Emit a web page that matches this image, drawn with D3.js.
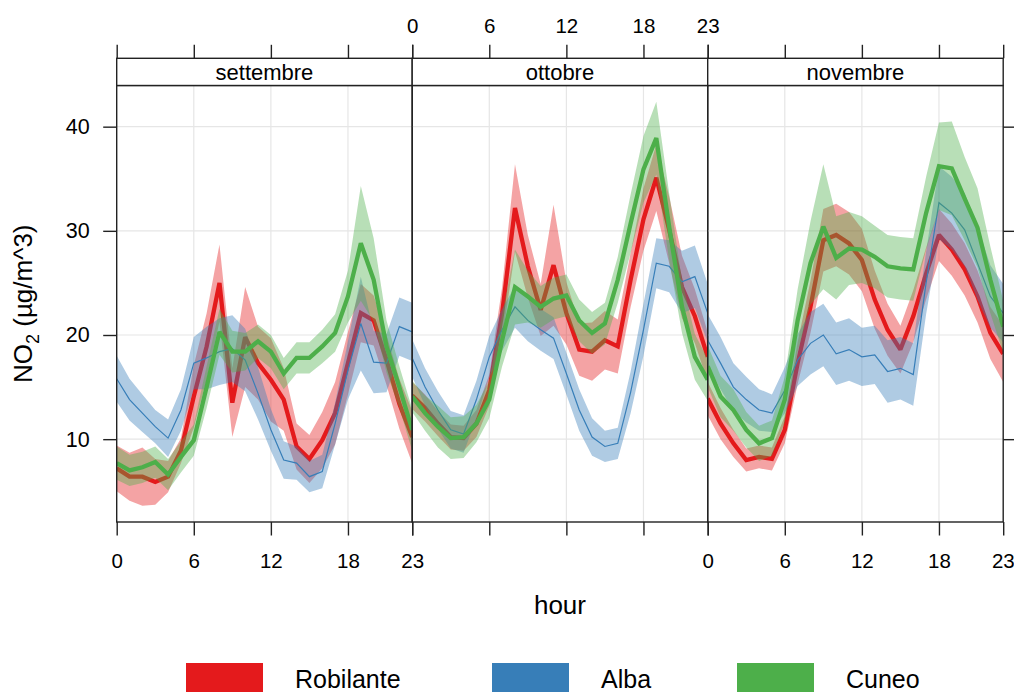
<!DOCTYPE html>
<html>
<head>
<meta charset="utf-8">
<script src="https://cdn.jsdelivr.net/npm/d3@7"></script>
<style>
  html, body { margin: 0; padding: 0; background: #fff; }
  svg { display: block; font-family: "Liberation Sans", Arial, sans-serif; }
</style>
</head>
<body>
<svg id="chart" width="1014" height="693"></svg>
<script>
// Hourly NO2 profiles by month, three monitoring sites, with confidence bands.
const months = ["settembre", "ottobre", "novembre"];
const hours = [0, 1, 2, 3, 4, 5, 6, 7, 8, 9, 10, 11, 12, 13, 14, 15, 16, 17, 18, 19, 20, 21, 22, 23];
const hourTicks = [0, 6, 12, 18, 23];
const yTicks = [10, 20, 30, 40];
const siteNames = ["Robilante", "Alba", "Cuneo"];
const siteColors = ["#E41A1C", "#377EB8", "#4DAF4A"];

// Mean values, one row of 24 hours per month (settembre, ottobre, novembre)
const robilanteMean = [
  7.2, 6.4, 6.4, 5.9, 6.4, 8.9, 14.1, 18.9, 25.0, 13.5, 19.8, 17.3, 15.7, 13.8, 9.3, 8.1, 9.9, 12.5, 17.3, 22.1, 21.4, 17.6, 13.4, 10.2,
  14.2, 13.0, 11.5, 10.2, 10.1, 11.5, 14.7, 22.1, 32.2, 26.6, 22.4, 26.7, 22.1, 18.6, 18.4, 19.5, 18.9, 25.3, 31.1, 35.1, 30.1, 24.6, 21.8, 17.9,
  13.9, 11.5, 9.6, 8.0, 8.3, 8.1, 10.9, 17.3, 22.7, 29.1, 29.6, 28.8, 27.2, 23.4, 20.5, 18.6, 21.8, 25.9, 29.6, 28.2, 26.3, 23.7, 20.2, 18.2
];
const albaMean = [
  15.8, 13.8, 12.5, 11.2, 10.1, 12.8, 17.3, 17.8, 18.4, 18.7, 17.6, 14.4, 10.9, 8.0, 7.7, 6.4, 6.9, 11.5, 16.6, 21.1, 17.4, 17.3, 20.8, 20.3,
  17.8, 15.0, 12.8, 10.9, 10.5, 13.8, 17.9, 20.5, 22.7, 21.4, 20.5, 19.7, 16.3, 12.8, 10.2, 9.3, 9.6, 14.5, 20.5, 26.9, 26.6, 25.1, 25.6, 22.1,
  19.5, 17.3, 15.0, 13.8, 12.8, 12.5, 14.7, 17.6, 19.2, 20.0, 18.2, 18.6, 17.9, 18.1, 16.5, 16.8, 16.2, 25.0, 32.7, 31.7, 30.1, 26.9, 23.7, 22.1
];
const cuneoMean = [
  7.7, 7.0, 7.3, 7.8, 6.6, 8.3, 9.9, 15.0, 20.3, 18.4, 18.4, 19.4, 18.4, 16.3, 17.8, 17.8, 18.9, 20.2, 23.7, 28.8, 25.3, 18.9, 15.0, 10.9,
  14.1, 12.5, 11.2, 10.1, 10.2, 11.5, 13.8, 19.5, 24.6, 23.7, 22.7, 23.5, 23.8, 21.4, 20.2, 21.1, 25.3, 30.7, 35.9, 38.9, 30.4, 22.7, 17.9, 15.7,
  17.0, 14.1, 12.8, 10.9, 9.6, 10.1, 13.8, 21.4, 26.9, 30.4, 27.4, 28.3, 28.2, 27.5, 26.6, 26.4, 26.3, 31.7, 36.2, 36.0, 33.1, 30.3, 25.3, 20.8
];

// Half-widths of the confidence intervals, same layout as the means
const robilanteCI = [
  2.2, 2.3, 2.8, 2.2, 1.5, 1.2, 3.0, 3.2, 3.7, 3.3, 4.8, 3.5, 4.0, 3.0, 2.2, 2.3, 2.7, 3.0, 3.0, 2.8, 2.4, 2.4, 2.4, 2.5,
  1.3, 1.3, 1.2, 1.2, 1.2, 1.3, 1.5, 2.5, 4.2, 3.0, 2.5, 5.8, 3.0, 2.5, 2.8, 2.8, 2.6, 2.6, 3.0, 3.2, 3.2, 3.0, 2.6, 2.4,
  1.6, 1.5, 1.3, 1.1, 1.1, 1.1, 1.3, 2.0, 2.5, 3.0, 3.0, 3.0, 3.0, 2.8, 2.5, 2.3, 2.5, 2.5, 2.5, 2.5, 2.5, 2.5, 2.5, 2.7
];
const albaCI = [
  2.2, 2.0, 1.8, 1.6, 1.8, 2.0, 2.5, 3.0, 3.2, 3.2, 3.0, 2.5, 2.0, 1.8, 1.6, 1.5, 1.6, 2.0, 2.8, 4.5, 3.0, 2.8, 2.8, 2.8,
  1.8, 1.8, 1.8, 1.8, 1.8, 1.8, 2.0, 2.0, 2.0, 2.0, 2.0, 2.0, 2.0, 2.0, 1.8, 1.5, 1.5, 2.0, 2.5, 2.4, 2.5, 3.0, 3.0, 2.8,
  2.5, 2.5, 2.3, 2.2, 2.0, 1.8, 2.2, 2.5, 3.0, 3.0, 3.0, 3.0, 2.8, 2.8, 3.0, 3.0, 3.0, 3.0, 3.5, 3.5, 3.5, 3.5, 3.0, 2.8
];
const cuneoCI = [
  1.6, 1.5, 1.5, 1.5, 1.5, 1.5, 1.5, 2.0, 2.2, 2.0, 1.8, 1.6, 1.6, 1.5, 1.5, 1.5, 1.6, 1.8, 2.5, 5.5, 4.0, 2.5, 2.0, 2.0,
  1.5, 1.7, 2.0, 2.0, 2.0, 1.8, 1.8, 2.5, 3.6, 2.5, 2.0, 2.0, 2.0, 2.0, 2.0, 2.0, 2.2, 2.8, 3.2, 3.5, 3.2, 2.5, 2.2, 2.0,
  2.0, 2.0, 2.0, 1.7, 1.7, 1.7, 2.2, 3.0, 4.0, 6.0, 4.0, 3.5, 3.2, 3.0, 3.0, 3.0, 3.0, 3.5, 4.2, 4.5, 4.0, 3.8, 3.2, 2.5
];

const siteMeans = [robilanteMean, albaMean, cuneoMean];
const siteCIs = [robilanteCI, albaCI, cuneoCI];

// Layout
const panelLeft = 116.7, panelW = 295.5;
const panelTop = 85.5, panelBottom = 522;
const stripTop = 58.3;
const tickLen = 13.5;
const axisColor = "#222";
const gridColor = "#e6e6e6";
const tickFont = 20.5;
const fontFamily = "Liberation Sans, Arial, sans-serif";

const svg = d3.select("#chart");

// Per-month records for each site
const records = months.map((m, mi) => siteNames.map((s, si) => hours.map((h, hi) => {
  const k = mi * 24 + hi;
  const v = siteMeans[si][k], c = siteCIs[si][k];
  return { hour: h, mean: v, lower: v - c, upper: v + c };
})));

// y range padded by 4% like a lattice panel
const allLo = d3.min(records.flat(2), d => d.lower);
const allHi = d3.max(records.flat(2), d => d.upper);
const pad = 0.04 * (allHi - allLo);
const y = d3.scaleLinear().domain([allLo - pad, allHi + pad]).range([panelBottom, panelTop]);

svg.append("defs").selectAll("clipPath").data(months).join("clipPath")
  .attr("id", (d, i) => "clip" + i)
  .append("rect")
  .attr("x", (d, i) => panelLeft + i * panelW)
  .attr("y", panelTop)
  .attr("width", panelW)
  .attr("height", panelBottom - panelTop);

months.forEach((month, mi) => {
  const x0 = panelLeft + mi * panelW;
  const x = d3.scaleLinear().domain([0, 23]).range([x0, x0 + panelW]);
  const g = svg.append("g");

  // grid
  g.append("g").selectAll("line").data(hourTicks.filter(t => t > 0 && t < 23)).join("line")
    .attr("x1", d => x(d)).attr("x2", d => x(d))
    .attr("y1", panelTop).attr("y2", panelBottom)
    .attr("stroke", gridColor).attr("stroke-width", 1.2);
  g.append("g").selectAll("line").data(yTicks).join("line")
    .attr("x1", x0).attr("x2", x0 + panelW)
    .attr("y1", d => y(d)).attr("y2", d => y(d))
    .attr("stroke", gridColor).attr("stroke-width", 1.2);

  const plot = g.append("g").attr("clip-path", `url(#clip${mi})`);
  const area = d3.area().x(d => x(d.hour)).y0(d => y(d.lower)).y1(d => y(d.upper));
  const line = d3.line().x(d => x(d.hour)).y(d => y(d.mean));

  siteNames.forEach((s, si) => {
    const data = records[mi][si];
    plot.append("path").datum(data)
      .attr("d", area)
      .attr("fill", siteColors[si])
      .attr("fill-opacity", 0.4);
    plot.append("path").datum(data)
      .attr("d", line)
      .attr("fill", "none")
      .attr("stroke", siteColors[si])
      .attr("stroke-width", si === 1 ? 1.2 : 4.3)
      .attr("stroke-linejoin", "miter")
      .attr("stroke-miterlimit", 2);
  });

  // panel frame
  g.append("rect")
    .attr("x", x0).attr("y", panelTop)
    .attr("width", panelW).attr("height", panelBottom - panelTop)
    .attr("fill", "none").attr("stroke", axisColor).attr("stroke-width", 1.4);

  // strip
  g.append("rect")
    .attr("x", x0).attr("y", stripTop)
    .attr("width", panelW).attr("height", panelTop - stripTop)
    .attr("fill", "#fff").attr("stroke", axisColor).attr("stroke-width", 1.4);
  g.append("text")
    .attr("x", x0 + panelW / 2).attr("y", (stripTop + panelTop) / 2 + 1)
    .attr("text-anchor", "middle").attr("dominant-baseline", "central")
    .attr("font-size", 22).attr("fill", "#000")
    .text(month);

  // top and bottom tick marks; labels alternate between panels
  const topAxis = d3.axisTop(x).tickValues(hourTicks).tickSize(tickLen).tickSizeOuter(0)
    .tickFormat(mi === 1 ? d3.format("d") : () => "");
  const ta = g.append("g").attr("transform", `translate(0,${stripTop})`).call(topAxis);
  const bottomAxis = d3.axisBottom(x).tickValues(hourTicks).tickSize(tickLen).tickSizeOuter(0)
    .tickFormat(mi !== 1 ? d3.format("d") : () => "");
  const ba = g.append("g").attr("transform", `translate(0,${panelBottom})`).call(bottomAxis);
  [ta, ba].forEach(a => {
    a.select(".domain").remove();
    a.selectAll("line").attr("stroke", axisColor).attr("stroke-width", 1.4);
    a.selectAll("text").attr("font-size", tickFont).attr("fill", "#000")
      .attr("font-family", fontFamily);
  });
  ta.selectAll("text").attr("dy", null).attr("y", -25);
  ba.selectAll("text").attr("dy", null).attr("y", 46);
  // keep the last label of the right-most panel inside the page
  if (mi === months.length - 1) {
    ba.selectAll("text").filter(d => d === 23).attr("text-anchor", "end").attr("x", 11);
  }
});

// y axes: labelled on the left, marks only on the right
const leftAxis = d3.axisLeft(y).tickValues(yTicks).tickSize(tickLen).tickSizeOuter(0);
const la = svg.append("g").attr("transform", `translate(${panelLeft},0)`).call(leftAxis);
const rightAxis = d3.axisRight(y).tickValues(yTicks).tickSize(tickLen).tickSizeOuter(0).tickFormat(() => "");
const ra = svg.append("g").attr("transform", `translate(${panelLeft + 3 * panelW},0)`).call(rightAxis);
[la, ra].forEach(a => {
  a.select(".domain").remove();
  a.selectAll("line").attr("stroke", axisColor).attr("stroke-width", 1.4);
  a.selectAll("text").attr("font-size", tickFont + 1).attr("fill", "#000")
    .attr("font-family", fontFamily);
});
la.selectAll("text").attr("x", -27);

// axis titles
svg.append("text")
  .attr("x", panelLeft + 1.5 * panelW).attr("y", 614)
  .attr("text-anchor", "middle").attr("font-size", 26)
  .text("hour");

const yt = svg.append("text")
  .attr("transform", `translate(32,${(panelTop + panelBottom) / 2}) rotate(-90)`)
  .attr("text-anchor", "middle").attr("font-size", 26);
yt.append("tspan").text("NO");
yt.append("tspan").attr("font-size", 18).attr("dy", 7).text("2");
yt.append("tspan").attr("dy", -7).text(" (µg/m^3)");

// legend
const legendX = [186, 492, 737];
const lg = svg.append("g").selectAll("g").data(siteNames).join("g")
  .attr("transform", (d, i) => `translate(${legendX[i]},663)`);
lg.append("rect").attr("width", 77).attr("height", 29)
  .attr("fill", (d, i) => siteColors[i]);
lg.append("text").attr("x", 109).attr("y", 24.5)
  .attr("font-size", 25).text(d => d);
</script>
</body>
</html>
